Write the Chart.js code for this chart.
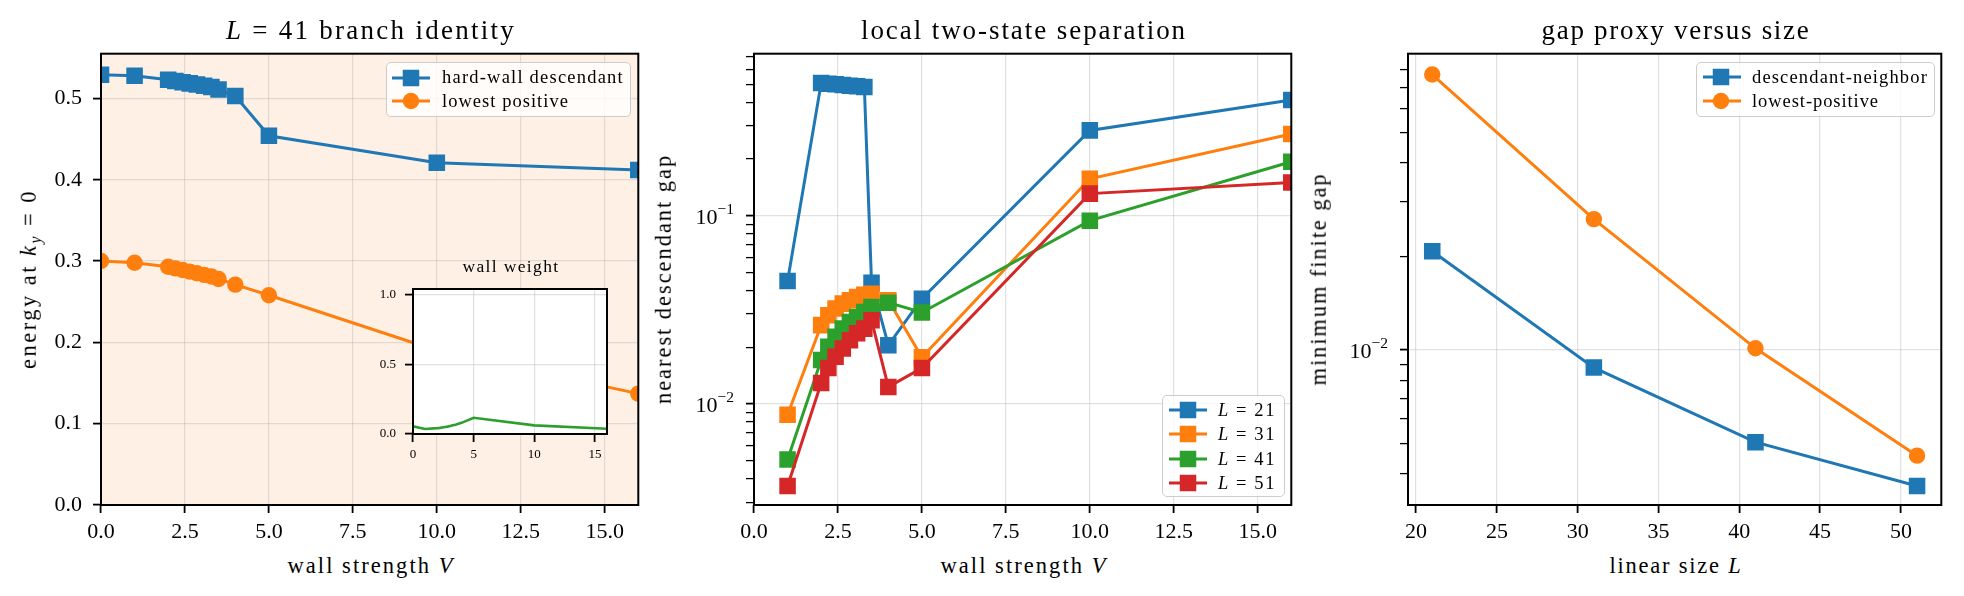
<!DOCTYPE html>
<html><head><meta charset="utf-8">
<script src="https://cdn.jsdelivr.net/npm/chart.js@4.4.1/dist/chart.umd.min.js"></script>
<style>
html,body{margin:0;padding:0;background:#fff}
body{width:1964px;height:596px;position:relative;overflow:hidden;font-family:"Liberation Serif","Times New Roman",serif;color:#000}
canvas{position:absolute}
.tx{position:absolute;white-space:nowrap;line-height:1;z-index:5}
.tx sub{font-size:70%;vertical-align:0;position:relative;top:0.3em}
.lg{position:absolute;border:1.5px solid #cccccc;border-radius:5px;background:rgba(255,255,255,0.8);box-sizing:border-box;z-index:6}
.lg .row{position:absolute;left:0;white-space:nowrap;line-height:1}
</style></head><body>
<canvas id="c1" width="649" height="508" style="left:1px;top:42px"></canvas>
<canvas id="cin" width="240" height="176" style="left:373px;top:284px;z-index:2"></canvas>
<canvas id="c2" width="649" height="508" style="left:654px;top:42px"></canvas>
<canvas id="c3" width="645" height="508" style="left:1308px;top:42px"></canvas>
<script>
// ---------------- data ----------------
const V_BRANCH = [0, 1, 2, 2.214, 2.429, 2.643, 2.857, 3.071, 3.286, 3.5, 4, 5, 10, 16];
const E_DESCENDANT = [0.529, 0.528, 0.523, 0.5215, 0.520, 0.5185, 0.517, 0.5155, 0.514, 0.511, 0.503, 0.454, 0.421, 0.412];
const E_LOWEST = [0.300, 0.298, 0.293, 0.291, 0.289, 0.287, 0.285, 0.283, 0.281, 0.278, 0.271, 0.258, 0.190, 0.137];
const WALL_WEIGHT = [0.055, 0.036, 0.042, 0.044, 0.047, 0.050, 0.053, 0.057, 0.062, 0.067, 0.080, 0.116, 0.062, 0.038];

const V_GAP = [1, 2, 2.214, 2.429, 2.643, 2.857, 3.071, 3.286, 3.5, 4, 5, 10, 16];
const GAP_L21 = [0.045, 0.507, 0.503, 0.499, 0.495, 0.491, 0.487, 0.483, 0.044, 0.0205, 0.0362, 0.284, 0.412];
const GAP_L31 = [0.00875, 0.0262, 0.0296, 0.0321, 0.0341, 0.0355, 0.0370, 0.0380, 0.0385, 0.0355, 0.0177, 0.157, 0.272];
const GAP_L41 = [0.00506, 0.0171, 0.0201, 0.0227, 0.0251, 0.0272, 0.0289, 0.0308, 0.0327, 0.0345, 0.0306, 0.0941, 0.1936];
const GAP_L51 = [0.00366, 0.0129, 0.0155, 0.0178, 0.0197, 0.0218, 0.0237, 0.0251, 0.0278, 0.0123, 0.0155, 0.131, 0.150];
const GAP_LABELS = ['21', '31', '41', '51'];

const L_SIZES = [21, 31, 41, 51];
const GAP_DESC_NEIGHBOR = [0.0208, 0.00878, 0.00505, 0.00365];
const GAP_LOWEST_POSITIVE = [0.0771, 0.0264, 0.01013, 0.00457];

const X_TICKS_V = [0, 2.5, 5, 7.5, 10, 12.5, 15];
const Y_TICKS_E = [0, 0.1, 0.2, 0.3, 0.4, 0.5];
const X_TICKS_INSET = [0, 5, 10, 15];
const Y_TICKS_INSET = [0, 0.5, 1.0];
const Y_TICKS_GAP = [0.003,0.004,0.005,0.006,0.007,0.008,0.009,0.01,0.02,0.03,0.04,0.05,0.06,0.07,0.08,0.09,0.1,0.2,0.3,0.4,0.5,0.6,0.7];
const X_TICKS_L = [20, 25, 30, 35, 40, 45, 50];
const Y_TICKS_SIZE = [0.004,0.005,0.006,0.007,0.008,0.009,0.01,0.02,0.03,0.04,0.05,0.06,0.07,0.08];

// ---------------- style ----------------
const C = ['#1f77b4', '#ff7f0e', '#2ca02c', '#d62728'];
const FONT = '"Liberation Serif"';
const GRID = 'rgba(176,176,176,0.38)';
const SQ_R = 11.7, CI_R = 8.2;

function isPow10(v){ const l = Math.log10(v); return Math.abs(l - Math.round(l)) < 1e-9; }

function framePlugin(fill){
  return {
    id: 'frame',
    beforeDraw(chart){
      if (!fill) return;
      const a = chart.chartArea, c = chart.ctx;
      c.save(); c.fillStyle = fill; c.fillRect(a.left, a.top, a.right-a.left, a.bottom-a.top); c.restore();
    },
    afterDraw(chart){
      const a = chart.chartArea, c = chart.ctx;
      c.save(); c.strokeStyle = '#000'; c.lineWidth = 2;
      c.strokeRect(a.left, a.top, a.right-a.left, a.bottom-a.top); c.restore();
    }
  };
}

function axis(o){
  const log = o.type === 'logarithmic';
  return {
    type: o.type || 'linear', min: o.min, max: o.max, bounds: 'data',
    afterBuildTicks: s => { s.ticks = o.ticks.map(v => ({value: v, major: log ? isPow10(v) : true})); },
    afterFit: s => {
      if (o.isX) s.height = o.fixed; else s.width = o.fixed;
      s.paddingLeft = 0; s.paddingRight = 0; s.paddingTop = 0; s.paddingBottom = 0;
    },
    grid: {
      color: ctx => (ctx.tick && ctx.tick.major) ? GRID : 'rgba(0,0,0,0)',
      lineWidth: 1.2, drawTicks: true, tickLength: o.tickLen || 8, tickColor: '#000',
      tickWidth: ctx => (ctx.tick && ctx.tick.major) ? 1.8 : 1.3
    },
    border: {display: false},
    ticks: {
      display: !log, autoSkip: false, maxRotation: 0, minRotation: 0,
      padding: o.pad, font: {family: FONT, size: o.fs || 22}, color: '#000',
      callback: o.fmt
    }
  };
}

function ds(xs, ys, color, style, order, width){
  return {
    data: xs.map((x, i) => ({x: x, y: ys[i]})),
    borderColor: color, backgroundColor: color, pointBackgroundColor: color,
    pointBorderWidth: 0, pointStyle: style || false,
    pointRadius: style === 'rect' ? SQ_R : (style === 'circle' ? CI_R : 0),
    borderWidth: width || 3, clip: 0, tension: 0, order: order || 0
  };
}

function baseOptions(x, y, padTop, padRight){
  return {
    responsive: false, animation: false, events: [],
    layout: {padding: {top: padTop, right: padRight, left: 0, bottom: 0}},
    plugins: {legend: {display: false}, tooltip: {enabled: false}, title: {display: false}},
    scales: {x: x, y: y}
  };
}

// ---------------- left panel ----------------
const ch1 = new Chart(document.getElementById('c1'), {
  type: 'line',
  data: {datasets: [
    ds(V_BRANCH, E_DESCENDANT, C[0], 'rect', 0),
    ds(V_BRANCH, E_LOWEST, C[1], 'circle', -1)
  ]},
  options: baseOptions(
    axis({isX: true, min: 0, max: 16, ticks: X_TICKS_V, fixed: 45, pad: 6, fmt: v => v.toFixed(1)}),
    axis({min: 0, max: 0.555, ticks: Y_TICKS_E, fixed: 100, pad: 11, fmt: v => v.toFixed(1)}),
    10, 10),
  plugins: [framePlugin('rgb(254,240,229)')]
});

// ---------------- inset ----------------
const chIn = new Chart(document.getElementById('cin'), {
  type: 'line',
  data: {datasets: [ ds(V_BRANCH, WALL_WEIGHT, C[2], false, 0, 2.6) ]},
  options: baseOptions(
    axis({isX: true, min: 0, max: 16, ticks: X_TICKS_INSET, fixed: 26, pad: 5, fs: 13, fmt: v => String(v)}),
    axis({min: 0, max: 1.04, ticks: Y_TICKS_INSET, fixed: 40, pad: 9, fs: 13, fmt: v => v.toFixed(1)}),
    5, 6),
  plugins: [framePlugin('#ffffff')]
});

// ---------------- middle panel ----------------
const gapSeries = [GAP_L21, GAP_L31, GAP_L41, GAP_L51];
const ch2 = new Chart(document.getElementById('c2'), {
  type: 'line',
  data: {datasets: gapSeries.map((s, i) => ds(V_GAP, s, C[i], 'rect', -i))},
  options: baseOptions(
    axis({isX: true, min: 0, max: 16, ticks: X_TICKS_V, fixed: 45, pad: 6, fmt: v => v.toFixed(1)}),
    axis({type: 'logarithmic', min: 0.0029, max: 0.726, ticks: Y_TICKS_GAP, fixed: 100, pad: 6, fmt: () => ''}),
    10, 10),
  plugins: [framePlugin(null)]
});

// ---------------- right panel ----------------
const ch3 = new Chart(document.getElementById('c3'), {
  type: 'line',
  data: {datasets: [
    ds(L_SIZES, GAP_DESC_NEIGHBOR, C[0], 'rect', 0),
    ds(L_SIZES, GAP_LOWEST_POSITIVE, C[1], 'circle', -1)
  ]},
  options: baseOptions(
    axis({isX: true, min: 19.5, max: 52.5, ticks: X_TICKS_L, fixed: 45, pad: 6, fmt: v => String(v)}),
    axis({type: 'logarithmic', min: 0.00317, max: 0.09, ticks: Y_TICKS_SIZE, fixed: 100, pad: 6, fmt: () => ''}),
    10, 10),
  plugins: [framePlugin(null)]
});

// ---------------- text helpers ----------------
function fitSpacing(el, target){
  const w = el.getBoundingClientRect().width;
  const n = el.textContent.length;
  if (w > 0) el.style.letterSpacing = ((target - w) / n).toFixed(2) + 'px';
}
function addText(html, x, y, o){
  const el = document.createElement('div');
  el.className = 'tx';
  el.innerHTML = html;
  el.style.fontSize = o.size + 'px';
  document.body.appendChild(el);
  if (o.target) fitSpacing(el, o.target);
  el.style.left = x + 'px'; el.style.top = y + 'px';
  let tr = o.anchor === 'r' ? 'translate(-100%,-50%)' : (o.anchor === 'l' ? 'translate(0,-50%)' : 'translate(-50%,-50%)');
  if (o.rot) tr += ' rotate(-90deg)';
  el.style.transform = tr;
  return el;
}

// titles
addText('<i>L</i> = 41 branch identity', 371, 30, {size: 27, target: 290});
addText('local two-state separation', 1024, 30, {size: 27, target: 326});
addText('gap proxy versus size', 1676, 30, {size: 27, target: 269});
// x labels
addText('wall strength <i>V</i>', 371, 566, {size: 22.5, target: 167});
addText('wall strength <i>V</i>', 1024, 566, {size: 22.5, target: 167});
addText('linear size <i>L</i>', 1676, 566, {size: 22.5, target: 133});
// y labels
addText('energy at <i>k<sub>y</sub></i> = 0', 29, 279, {size: 22.5, target: 180, rot: true});
addText('nearest descendant gap', 664, 279, {size: 22.5, target: 250, rot: true});
addText('minimum finite gap', 1319, 279, {size: 22.5, target: 213, rot: true});
// inset title
addText('wall weight', 511, 267, {size: 17.5, target: 97});

// log tick labels (powers of ten only) from scales
function logLabels(chart, canvasLeft, canvasTop, ticks){
  const ys = chart.scales.y, left = chart.chartArea.left + canvasLeft;
  ticks.filter(isPow10).forEach(v => {
    const e = Math.round(Math.log10(v));
    const px = ys.getPixelForValue(v) + canvasTop;
    addText('10<span style="font-size:15.5px;position:relative;top:-0.62em">\u2212' + Math.abs(e) + '</span>', left - 20, px + 1, {size: 22, anchor: 'r'});
  });
}
logLabels(ch2, 654, 42, Y_TICKS_GAP);
logLabels(ch3, 1308, 42, Y_TICKS_SIZE);

// ---------------- legends ----------------
function legend(box, rows, o){
  const d = document.createElement('div');
  d.className = 'lg';
  Object.assign(d.style, {left: box[0] + 'px', top: box[1] + 'px', width: box[2] + 'px', height: box[3] + 'px'});
  document.body.appendChild(d);
  rows.forEach((r, i) => {
    const y = o.rowY[i];
    const svg = document.createElementNS('http://www.w3.org/2000/svg', 'svg');
    svg.setAttribute('width', '60'); svg.setAttribute('height', '24');
    Object.assign(svg.style, {position: 'absolute', left: '0px', top: (y - 12) + 'px'});
    const mk = r.style === 'rect'
      ? `<rect x="${o.markX - 8.25}" y="3.75" width="16.5" height="16.5" fill="${r.color}"/>`
      : `<circle cx="${o.markX}" cy="12" r="8.2" fill="${r.color}"/>`;
    svg.innerHTML = `<line x1="${o.l0}" y1="12" x2="${o.l1}" y2="12" stroke="${r.color}" stroke-width="3"/>` + mk;
    d.appendChild(svg);
    const t = document.createElement('div');
    t.className = 'row';
    t.innerHTML = r.label;
    t.style.fontSize = o.fs + 'px';
    d.appendChild(t);
    if (r.target) fitSpacing(t, r.target);
    t.style.left = o.textX + 'px';
    t.style.top = (y - o.fs / 2) + 'px';
  });
}

const lg1Rows = [
  {label: 'hard-wall descendant', color: C[0], style: 'rect', target: 182},
  {label: 'lowest positive', color: C[1], style: 'circle', target: 127}
];
const lg2Rows = GAP_LABELS.map((s, i) => ({label: '<i>L</i> = ' + s, color: C[i], style: 'rect', target: 58}));
const lg3Rows = [
  {label: 'descendant-neighbor', color: C[0], style: 'rect', target: 176},
  {label: 'lowest-positive', color: C[1], style: 'circle', target: 127}
];
legend([386, 62, 245, 55], lg1Rows, {rowY: [14.5, 38], l0: 5, l1: 43, markX: 24, textX: 55, fs: 18.5});
legend([1162, 395, 123, 102], lg2Rows, {rowY: [14, 38, 63, 87], l0: 6, l1: 44, markX: 25, textX: 55, fs: 18.5});
legend([1696, 62, 239, 55], lg3Rows, {rowY: [14, 38], l0: 6, l1: 44, markX: 24, textX: 55, fs: 18.5});
</script>
</body></html>
